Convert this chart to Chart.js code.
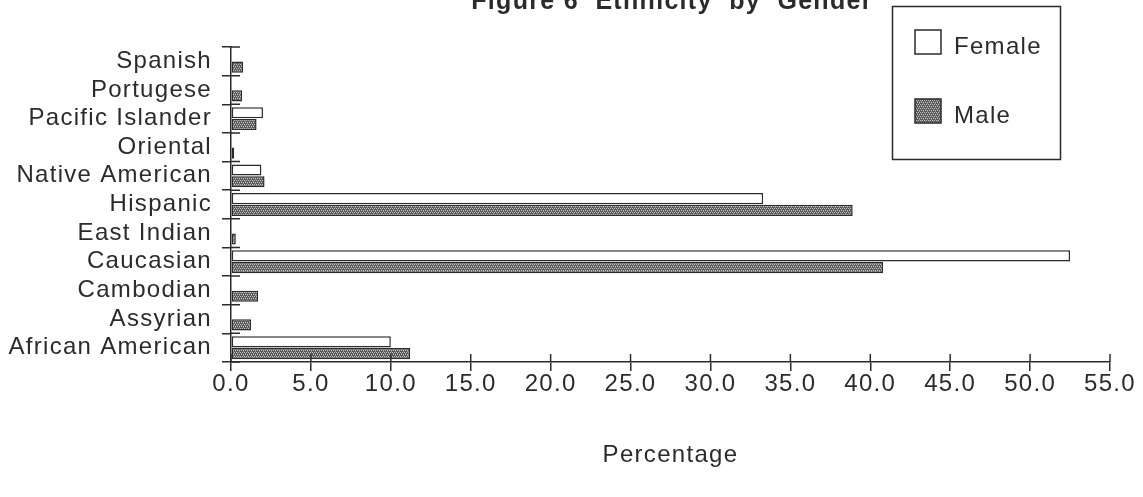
<!DOCTYPE html>
<html>
<head>
<meta charset="utf-8">
<title>Ethnicity by Gender</title>
<script src="https://cdn.jsdelivr.net/npm/chart.js@4.4.1/dist/chart.umd.min.js"></script>
<style>
  html, body { margin: 0; padding: 0; background: #fff; }
  #wrap { width: 1143px; height: 497px; position: relative; }
</style>
</head>
<body>
<div id="wrap"><canvas id="ethnicityChart" width="1143" height="497"></canvas></div>
<script>
// Chart data
const chartTitle = 'Figure 6  Ethnicity  by  Gender';
const axisTitle = 'Percentage';
const categories = ['Spanish', 'Portugese', 'Pacific Islander', 'Oriental', 'Native American',
  'Hispanic', 'East Indian', 'Caucasian', 'Cambodian', 'Assyrian', 'African American'];
const femaleValues = [0, 0, 2.0, 0, 1.9, 33.3, 0, 52.5, 0, 0, 10.0];
const maleValues = [0.75, 0.7, 1.6, 0.2, 2.1, 38.9, 0.3, 40.8, 1.7, 1.25, 11.2];
const tickValues = [0, 5, 10, 15, 20, 25, 30, 35, 40, 45, 50, 55];

const FONT = '"Liberation Sans", Arial, Helvetica, sans-serif';
const INK = '#2b2b2b';

// dithered grey fill for the male bars
function makeDither() {
  const c = document.createElement('canvas');
  c.width = 4; c.height = 4;
  const g = c.getContext('2d');
  g.fillStyle = '#585858';
  g.fillRect(0, 0, 4, 4);
  g.fillStyle = '#c4c4c4';
  g.fillRect(0, 0, 1, 1);
  g.fillRect(2, 0, 1, 1);
  g.fillRect(1, 2, 1, 1);
  g.fillRect(3, 2, 1, 1);
  g.fillStyle = '#8a8a8a';
  g.fillRect(1, 1, 1, 1);
  g.fillRect(3, 3, 1, 1);
  return g.createPattern(c, 'repeat');
}
const ctx = document.getElementById('ethnicityChart').getContext('2d');
const dither = makeDither();

// letter spacing gets lost whenever the canvas is resized, so set it again
const spacingPlugin = {
  id: 'spacing',
  beforeLayout(chart) { chart.ctx.letterSpacing = '1.3px'; },
  beforeDraw(chart) { chart.ctx.letterSpacing = '1.3px'; }
};

// tick marks crossing both axes, title and boxed legend
const decorPlugin = {
  id: 'decor',
  afterDraw(chart) {
    const c = chart.ctx;
    const area = chart.chartArea;
    const xs = chart.scales.x;
    const ys = chart.scales.y;
    c.save();
    c.strokeStyle = INK;
    c.lineWidth = 1.5;
    c.beginPath();
    tickValues.forEach(v => {
      const px = xs.getPixelForValue(v);
      c.moveTo(px, area.bottom);
      c.lineTo(px, area.bottom - 8);
    });
    for (let i = 0; i <= categories.length; i++) {
      const py = ys.getPixelForValue(i - 0.5);
      c.moveTo(area.left, py);
      c.lineTo(area.left + 9, py);
    }
    c.stroke();

    // title, clipped by the top edge like the scan
    c.fillStyle = INK;
    c.font = 'bold 25px ' + FONT;
    c.textAlign = 'center';
    c.textBaseline = 'alphabetic';
    c.fillText(chartTitle, 672, 9);

    // legend box
    c.lineWidth = 1.5;
    c.strokeRect(892.5, 6.5, 168, 153);
    const ds = chart.data.datasets;
    const rows = [40, 109];
    c.font = '24px ' + FONT;
    c.textAlign = 'left';
    c.textBaseline = 'middle';
    ds.forEach((d, i) => {
      const top = rows[i] - 10;
      c.fillStyle = d.backgroundColor;
      c.fillRect(915, top, 26, 24);
      c.strokeStyle = d.borderColor;
      c.strokeRect(915, top, 26, 24);
      c.fillStyle = INK;
      c.fillText(d.label, 954, rows[i] + 7);
    });
    c.restore();
  }
};

new Chart(ctx, {
  type: 'bar',
  data: {
    labels: categories,
    datasets: [
      {
        label: 'Female',
        data: femaleValues,
        backgroundColor: '#ffffff',
        borderColor: INK,
        borderWidth: 1.5,
        borderSkipped: false,
        categoryPercentage: 0.82,
        barPercentage: 0.95
      },
      {
        label: 'Male',
        data: maleValues,
        backgroundColor: dither,
        borderColor: INK,
        borderWidth: 1.5,
        borderSkipped: false,
        categoryPercentage: 0.82,
        barPercentage: 0.95
      }
    ]
  },
  options: {
    indexAxis: 'y',
    responsive: false,
    animation: false,
    devicePixelRatio: 1,
    layout: { padding: { top: 47, right: 33, left: 0, bottom: 0 } },
    plugins: {
      legend: { display: false },
      title: { display: false },
      tooltip: { enabled: false }
    },
    scales: {
      x: {
        type: 'linear',
        min: 0,
        max: 55,
        afterFit(scale) { scale.height = 135; },
        afterBuildTicks(scale) { scale.ticks = tickValues.map(v => ({ value: v })); },
        grid: { display: true, drawOnChartArea: false, drawTicks: true, tickLength: 9, color: INK, lineWidth: 1.5 },
        border: { display: true, color: INK, width: 1.5 },
        ticks: {
          color: INK,
          padding: 1,
          font: { family: FONT, size: 24, lineHeight: 1 },
          callback: v => Number(v).toFixed(1)
        },
        title: {
          display: true,
          text: axisTitle,
          align: 'center',
          color: INK,
          font: { family: FONT, size: 24, lineHeight: 1 },
          padding: { top: 0, bottom: 30 }
        }
      },
      y: {
        type: 'category',
        afterFit(scale) { scale.width = 231; },
        grid: { display: true, drawOnChartArea: false, drawTicks: true, tickLength: 9, color: INK, lineWidth: 1.5, offset: true },
        border: { display: true, color: INK, width: 1.5 },
        ticks: {
          color: INK,
          padding: 10,
          autoSkip: false,
          font: { family: FONT, size: 24, lineHeight: 1 }
        }
      }
    }
  },
  plugins: [spacingPlugin, decorPlugin]
});
</script>
</body>
</html>
